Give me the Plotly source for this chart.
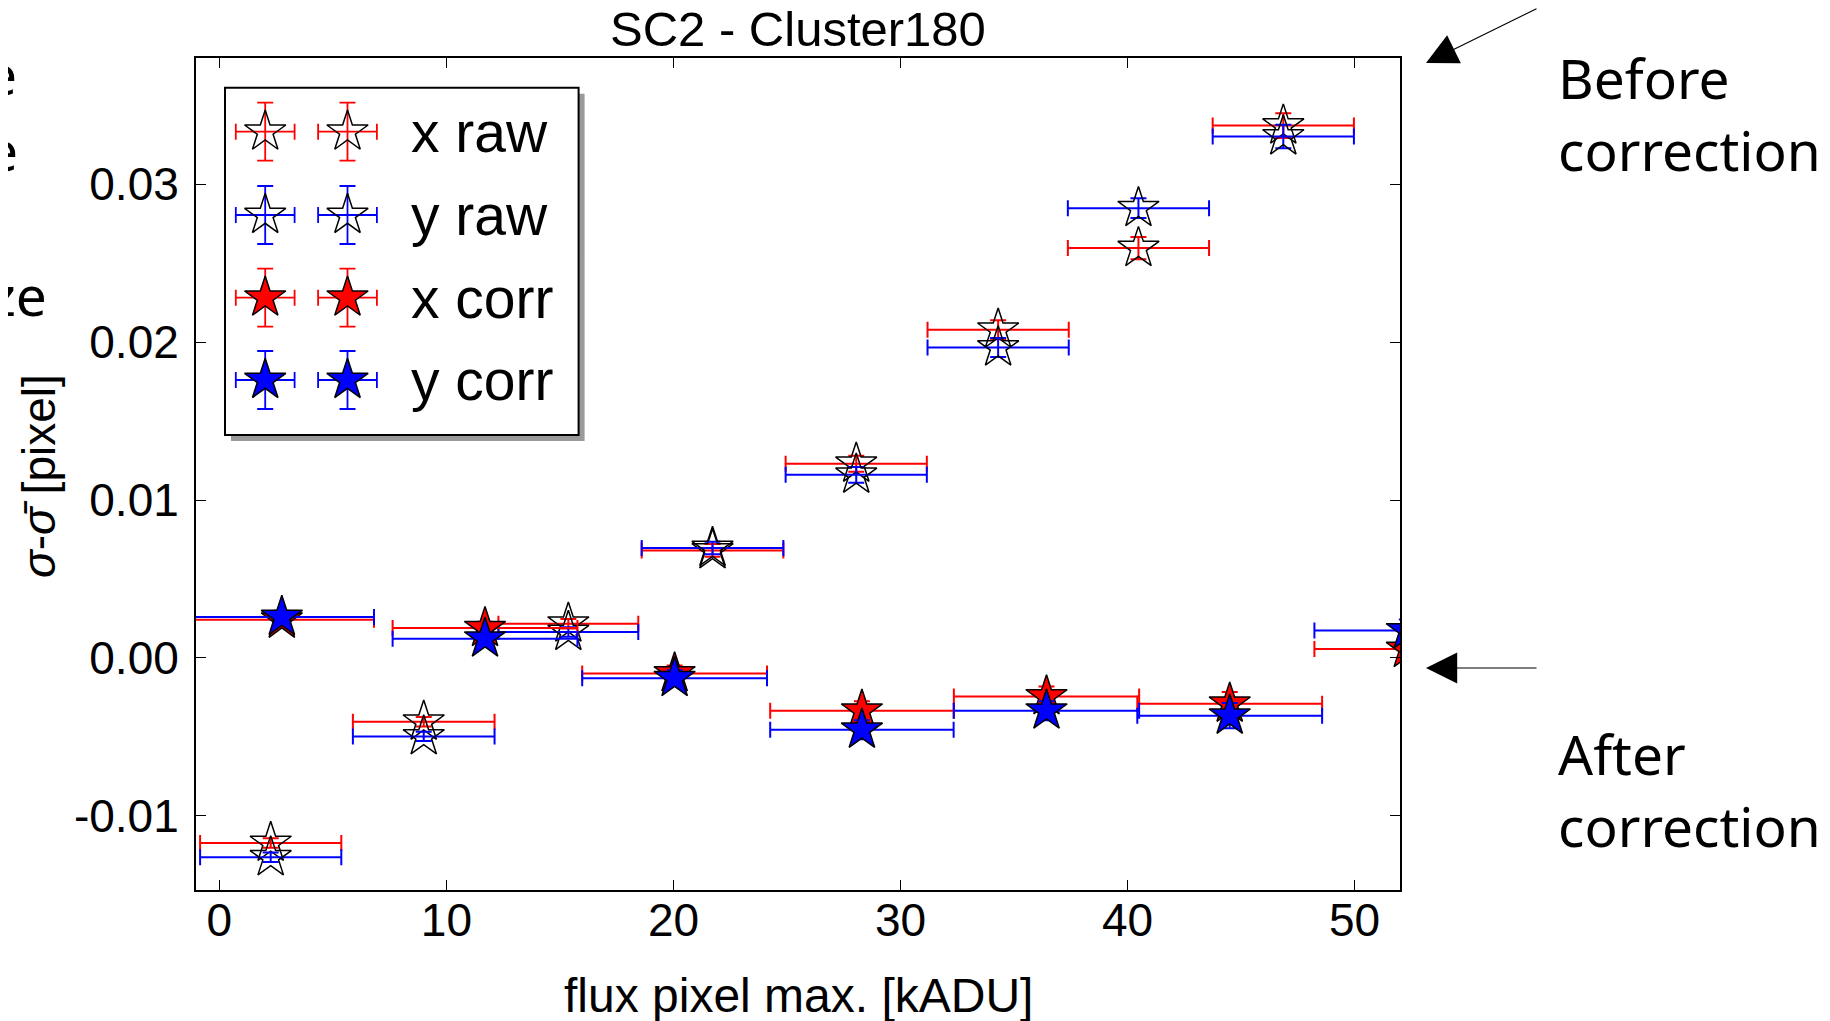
import plotly.graph_objects as go

# ---- data ----
raw_flux = [2.26, 9.0, 15.37, 21.72, 28.05, 34.3, 40.48, 46.86]
raw_flux_err = [3.11, 3.12, 3.08, 3.12, 3.11, 3.11, 3.11, 3.11]
x_raw = [-0.01172, -0.00404, 0.00217, 0.00681, 0.01230, 0.02079, 0.02596, 0.03372]
x_raw_err = [0.0003, 0.0003, 0.0003, 0.0004, 0.0005, 0.0006, 0.0007, 0.00078]
y_raw = [-0.01263, -0.00497, 0.00164, 0.00696, 0.01160, 0.01966, 0.02849, 0.03303]
y_raw_err = [0.0003, 0.0003, 0.0003, 0.0004, 0.0005, 0.0006, 0.00063, 0.00074]

corr_flux = [2.75, 11.7, 20.05, 28.3, 36.43, 44.5, 52.3]
corr_flux_err = [4.06, 4.07, 4.07, 4.04, 4.08, 4.07, 4.07]
x_corr = [0.00242, 0.00189, -0.00098, -0.00334, -0.00244, -0.00290, 0.00056]
x_corr_err = [0.0004, 0.0004, 0.0005, 0.0006, 0.00063, 0.00074, 0.0007]
y_corr = [0.00259, 0.00122, -0.00128, -0.00455, -0.00334, -0.00366, 0.00174]
y_corr_err = [0.0004, 0.0004, 0.0005, 0.0006, 0.0006, 0.0008, 0.0007]

y_tickvals = [-0.01, 0.0, 0.01, 0.02, 0.03]
y_ticktext = ["-0.01", "0.00", "0.01", "0.02", "0.03"]
legend_labels = ["x raw", "y raw", "x corr", "y corr"]

# ---- layout helpers (page pixel -> paper) ----
# the page body has an 8px margin, so the figure is made 8px smaller
OFF = 8
PAGE_W, PAGE_H = 1830, 1021
W, H = PAGE_W - OFF, PAGE_H - OFF
PL, PR, PT, PB = 196, 1400, 58, 890


def px_x(px):
    return (px - PL) / (PR - PL)


def px_y(py):
    return 1 - (py - PT) / (PB - PT)


FONT = "Liberation Sans"
SIDE_FONT = "Noto Sans"
RED, BLUE = "#ff0000", "#0000ff"
STAR = 31


def err(arr, color):
    return dict(type="data", array=arr, color=color, thickness=2, width=8)


series = [
    (raw_flux, raw_flux_err, x_raw, x_raw_err, RED, "star-open", "black"),
    (raw_flux, raw_flux_err, y_raw, y_raw_err, BLUE, "star-open", "black"),
    (corr_flux, corr_flux_err, x_corr, x_corr_err, RED, "star", RED),
    (corr_flux, corr_flux_err, y_corr, y_corr_err, BLUE, "star", BLUE),
]

fig = go.Figure()

for (fx, fxe, v, ve, col, sym, fill), name in zip(series, legend_labels):
    fig.add_trace(go.Scatter(
        x=fx, y=v, mode="markers", name=name, showlegend=False,
        error_x=err(fxe, col), error_y=err(ve, col),
        marker=dict(symbol=sym, size=STAR, color=fill,
                    line=dict(color="black", width=1.5)),
    ))

# ---- hand-made legend in an inset axes (units = pixels) ----
LX0, LX1, LY0, LY1 = 222, 587, 84.7, 443
leg_cols = [40.2, 122.5]
leg_rows = [44, 127.3, 210, 292.3]

for (fx, fxe, v, ve, col, sym, fill), name, row in zip(series, legend_labels, leg_rows):
    fig.add_trace(go.Scatter(
        x=leg_cols, y=[row, row], mode="markers", showlegend=False,
        xaxis="x2", yaxis="y2", hoverinfo="skip",
        error_x=dict(type="constant", value=29.4, color=col, thickness=1.8, width=8),
        error_y=dict(type="constant", value=29, color=col, thickness=1.8, width=8),
        marker=dict(symbol=sym, size=STAR, color=fill,
                    line=dict(color="black", width=1.5)),
    ))
    fig.add_annotation(x=183.5, y=row, xref="x2", yref="y2", text=name,
                       showarrow=False, xanchor="left", yanchor="middle",
                       font=dict(family=FONT, size=57, color="black"))

# legend frame with drop shadow
fig.add_shape(type="rect", xref="x2", yref="y2", x0=6, x1=359.6, y0=6, y1=353.3,
              line=dict(width=0), fillcolor="#9a9a9a", layer="below")
fig.add_shape(type="rect", xref="x2", yref="y2", x0=0, x1=353.6, y0=0, y1=347.3,
              line=dict(width=2, color="black"), fillcolor="white", layer="below")

# ---- titles ----
fig.add_annotation(x=0.5, y=px_y(29), xref="paper", yref="paper",
                   text="SC2 - Cluster180", showarrow=False,
                   xanchor="center", yanchor="middle",
                   font=dict(family=FONT, size=49, color="black"))
fig.add_annotation(x=0.5, y=px_y(995), xref="paper", yref="paper",
                   text="flux pixel max. [kADU]", showarrow=False,
                   xanchor="center", yanchor="middle",
                   font=dict(family=FONT, size=48, color="black"))
fig.add_annotation(x=px_x(39), y=px_y(476), xref="paper", yref="paper",
                   text="<i>σ</i>-<i>σ̄</i> [pixel]", showarrow=False,
                   textangle=-90, xanchor="center", yanchor="middle",
                   font=dict(family=FONT, size=46, color="black"))

# ---- side notes and arrows ----
side = dict(family=SIDE_FONT, size=55, color="black")
fig.add_annotation(x=px_x(1556), y=px_y(114), xref="paper", yref="paper",
                   text="Before<br>correction", showarrow=False, align="left",
                   xanchor="left", yanchor="middle", font=side)
fig.add_annotation(x=px_x(1556), y=px_y(789), xref="paper", yref="paper",
                   text="After<br>correction", showarrow=False, align="left",
                   xanchor="left", yanchor="middle", font=side)

arrow = dict(showarrow=True, arrowhead=2, arrowsize=5.2, arrowwidth=1.2,
             arrowcolor="black", text="", xref="paper", yref="paper")
fig.add_annotation(x=px_x(1426), y=px_y(63), ax=112, ay=-55, **arrow)
fig.add_annotation(x=px_x(1426), y=px_y(668), ax=112, ay=0, **arrow)

# fragments of neighbouring text cut by the left edge
for txt, right, mid in [("e", 19, 73), ("e", 20, 149), ("ze", 49, 294)]:
    fig.add_annotation(x=px_x(right), y=px_y(mid), xref="paper", yref="paper",
                       text=txt, showarrow=False, xanchor="right",
                       yanchor="middle", font=side)

axis_common = dict(showline=True, linecolor="black", linewidth=2, mirror="ticks",
                   ticks="inside", ticklen=10, tickwidth=1.2, tickcolor="black",
                   showgrid=False, zeroline=False,
                   tickfont=dict(family=FONT, size=46, color="black"))

fig.update_layout(
    width=W, height=H,
    margin=dict(l=PL - OFF, r=PAGE_W - PR, t=PT - OFF, b=PAGE_H - PB),
    paper_bgcolor="white", plot_bgcolor="white",
    showlegend=False,
    xaxis=dict(range=[-1.03, 52.0], tick0=0, dtick=10, ticklabelstandoff=-11,
               **axis_common),
    yaxis=dict(range=[-0.0147, 0.038], tickvals=y_tickvals, ticktext=y_ticktext,
               ticklabelstandoff=6, **axis_common),
    xaxis2=dict(domain=[px_x(LX0), px_x(LX1)], range=[-3, 362], visible=False,
                anchor="y2", fixedrange=True),
    yaxis2=dict(domain=[px_y(LY1), px_y(LY0)], range=[355.3, -3], visible=False,
                anchor="x2", fixedrange=True),
)

fig.write_html("out.html")
